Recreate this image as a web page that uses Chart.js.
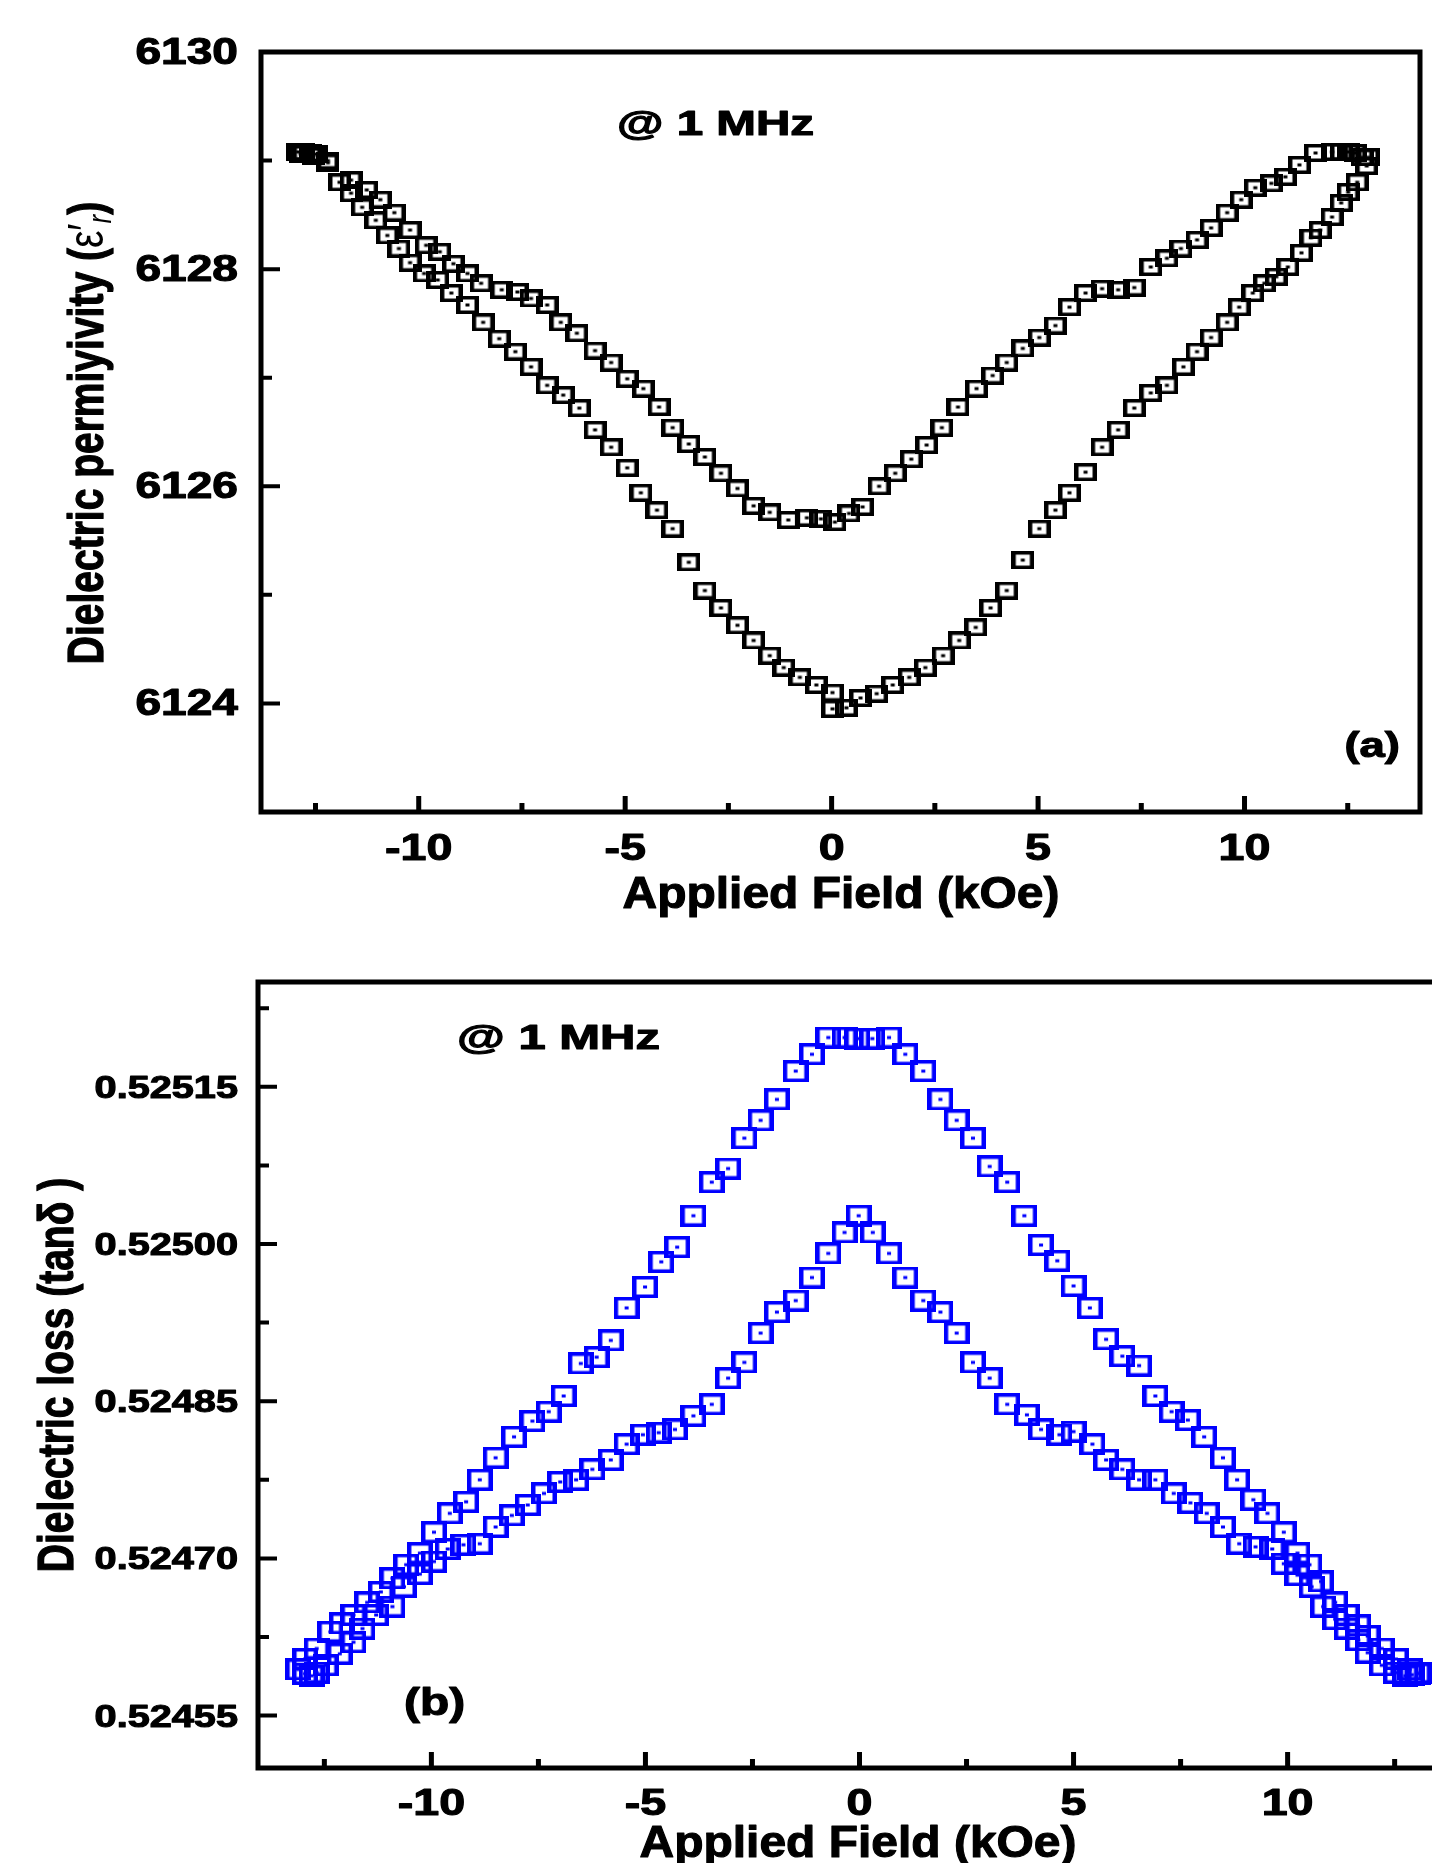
<!DOCTYPE html>
<html>
<head>
<meta charset="utf-8">
<title>Dielectric permittivity and loss vs applied field</title>
<script src="https://cdn.jsdelivr.net/npm/chart.js@4.4.0/dist/chart.umd.min.js"></script>
<style>
  html, body { margin: 0; padding: 0; background: #fff; overflow: hidden; width: 1432px; height: 1863px; }
  canvas { position: absolute; left: 0; }
  #chartA { top: 0; }
  #chartB { top: 930px; }
</style>
</head>
<body>
<canvas id="chartA" width="1432" height="930"></canvas>
<canvas id="chartB" width="1480" height="933"></canvas>
<script>
// --- (a) dielectric permittivity, two branches of the loop ---
const fieldA1 = [-12.93, -12.78, -12.63, -12.48, -12.20, -11.64, -11.26, -10.93, -10.59, -10.21, -9.82, -9.49, -9.16, -8.82, -8.49,
  -7.99, -7.61, -7.28, -6.89, -6.56, -6.17, -5.73, -5.34, -4.95, -4.56, -4.18, -3.85, -3.46, -3.07, -2.68, -2.28, -1.89, -1.50,
  -1.05, -0.60, -0.26, 0.08, 0.42, 0.75, 1.15, 1.54, 1.93, 2.30, 2.67, 3.06, 3.51, 3.90, 4.24, 4.63, 5.03, 5.42, 5.76, 6.15,
  6.55, 6.94, 7.33, 7.73, 8.12, 8.46, 8.85, 9.19, 9.58, 9.92, 10.26, 10.65, 10.99, 11.33, 11.72, 12.12, 12.35, 12.51, 12.68,
  12.85, 13.00];
const epsA1 = [6129.08, 6129.08, 6129.07, 6129.06, 6129.00, 6128.82, 6128.73, 6128.64, 6128.52, 6128.36, 6128.22, 6128.16, 6128.05,
  6127.96, 6127.87, 6127.81, 6127.79, 6127.73, 6127.67, 6127.51, 6127.41, 6127.25, 6127.14, 6126.99, 6126.90, 6126.73, 6126.54,
  6126.39, 6126.27, 6126.12, 6125.98, 6125.82, 6125.76, 6125.69, 6125.71, 6125.70, 6125.67, 6125.75, 6125.81, 6126.00, 6126.12,
  6126.25, 6126.38, 6126.54, 6126.73, 6126.90, 6127.02, 6127.14, 6127.27, 6127.37, 6127.48, 6127.65, 6127.78, 6127.82, 6127.81,
  6127.83, 6128.02, 6128.10, 6128.19, 6128.27, 6128.38, 6128.52, 6128.64, 6128.75, 6128.79, 6128.85, 6128.96, 6129.07, 6129.08,
  6129.08, 6129.08, 6129.07, 6129.03, 6129.03];

const fieldA2 = [-12.86, -12.55, -12.20, -11.92, -11.64, -11.37, -11.04, -10.76, -10.48, -10.21, -9.87, -9.54, -9.21, -8.82, -8.44,
  -8.05, -7.66, -7.28, -6.89, -6.50, -6.11, -5.73, -5.34, -4.95, -4.62, -4.23, -3.85, -3.46, -3.07, -2.68, -2.28, -1.89, -1.50,
  -1.16, -0.77, -0.37, 0.02, 0.02, 0.36, 0.70, 1.09, 1.48, 1.88, 2.27, 2.70, 3.09, 3.49, 3.85, 4.24, 4.63, 5.03, 5.42, 5.76,
  6.15, 6.55, 6.94, 7.33, 7.73, 8.12, 8.52, 8.85, 9.19, 9.58, 9.87, 10.20, 10.48, 10.77, 11.05, 11.38, 11.61, 11.83, 12.12,
  12.34, 12.51, 12.73, 12.96];
const epsA2 = [6129.06, 6129.04, 6128.98, 6128.80, 6128.70, 6128.57, 6128.45, 6128.31, 6128.19, 6128.06, 6127.96, 6127.90, 6127.78,
  6127.67, 6127.51, 6127.36, 6127.24, 6127.10, 6126.93, 6126.84, 6126.72, 6126.52, 6126.36, 6126.17, 6125.94, 6125.78, 6125.61,
  6125.30, 6125.04, 6124.88, 6124.72, 6124.58, 6124.44, 6124.33, 6124.24, 6124.17, 6124.10, 6123.95, 6123.96, 6124.05, 6124.09,
  6124.17, 6124.24, 6124.33, 6124.44, 6124.58, 6124.70, 6124.88, 6125.04, 6125.32, 6125.61, 6125.78, 6125.94, 6126.13, 6126.36,
  6126.52, 6126.72, 6126.86, 6126.93, 6127.10, 6127.24, 6127.37, 6127.51, 6127.65, 6127.78, 6127.87, 6127.93, 6128.02, 6128.15,
  6128.29, 6128.36, 6128.48, 6128.61, 6128.71, 6128.80, 6128.95];

// --- (b) dielectric loss, two branches of the loop ---
const fieldB1 = [-12.95, -12.68, -12.36, -12.09, -11.82, -11.50, -11.18, -10.91, -10.59, -10.27, -9.94, -9.57, -9.19, -8.87, -8.50,
  -8.07, -7.64, -7.26, -6.91, -6.51, -6.14, -5.81, -5.44, -5.01, -4.63, -4.26, -3.88, -3.45, -3.07, -2.69, -2.31, -1.93, -1.49,
  -1.11, -0.73, -0.35, -0.05, 0.30, 0.69, 1.07, 1.49, 1.89, 2.27, 2.65, 3.04, 3.45, 3.85, 4.24, 4.62, 5.00, 5.38, 5.76, 6.14,
  6.53, 6.91, 7.29, 7.67, 8.05, 8.49, 8.82, 9.20, 9.53, 9.91, 10.23, 10.51, 10.78, 11.11, 11.38, 11.65, 11.87, 12.20, 12.53,
  12.85, 13.05];
const lossB1 = [0.524604, 0.524614, 0.524630, 0.524638, 0.524646, 0.524658, 0.524668, 0.524681, 0.524694, 0.524705, 0.524725,
  0.524743, 0.524754, 0.524775, 0.524796, 0.524816, 0.524831, 0.524840, 0.524855, 0.524886, 0.524892, 0.524908, 0.524939,
  0.524959, 0.524983, 0.524997, 0.525027, 0.525059, 0.525072, 0.525101, 0.525118, 0.525138, 0.525165, 0.525181, 0.525197,
  0.525197, 0.525196, 0.525196, 0.525197, 0.525181, 0.525165, 0.525138, 0.525118, 0.525101, 0.525074, 0.525059, 0.525027,
  0.524999, 0.524984, 0.524960, 0.524939, 0.524909, 0.524893, 0.524884, 0.524855, 0.524840, 0.524832, 0.524816, 0.524796,
  0.524775, 0.524756, 0.524743, 0.524725, 0.524705, 0.524694, 0.524678, 0.524658, 0.524646, 0.524636, 0.524626, 0.524614,
  0.524604, 0.524594, 0.524590];

const fieldB2 = [-13.11, -12.95, -12.80, -12.68, -12.47, -12.14, -11.82, -11.61, -11.29, -10.91, -10.64, -10.27, -9.94, -9.62,
  -9.25, -8.87, -8.50, -8.12, -7.75, -7.37, -6.99, -6.62, -6.24, -5.81, -5.44, -5.06, -4.69, -4.31, -3.88, -3.45, -3.07, -2.69,
  -2.31, -1.93, -1.49, -1.11, -0.73, -0.35, -0.02, 0.31, 0.69, 1.07, 1.49, 1.89, 2.27, 2.65, 3.04, 3.45, 3.91, 4.24, 4.67, 5.00,
  5.44, 5.76, 6.14, 6.53, 6.91, 7.34, 7.73, 8.11, 8.49, 8.87, 9.25, 9.64, 9.91, 10.23, 10.56, 10.83, 11.11, 11.38, 11.65, 11.87,
  12.20, 12.53, 12.75, 12.90, 13.10];
const lossB2 = [0.524594, 0.524590, 0.524588, 0.524591, 0.524598, 0.524609, 0.524620, 0.524633, 0.524646, 0.524654, 0.524673,
  0.524685, 0.524697, 0.524709, 0.524713, 0.524714, 0.524730, 0.524741, 0.524751, 0.524762, 0.524773, 0.524775, 0.524785,
  0.524794, 0.524809, 0.524818, 0.524820, 0.524823, 0.524836, 0.524847, 0.524872, 0.524887, 0.524915, 0.524935, 0.524946,
  0.524968, 0.524991, 0.525011, 0.525027, 0.525011, 0.524991, 0.524968, 0.524946, 0.524935, 0.524915, 0.524887, 0.524872,
  0.524847, 0.524837, 0.524823, 0.524818, 0.524821, 0.524809, 0.524794, 0.524785, 0.524775, 0.524775, 0.524762, 0.524753,
  0.524743, 0.524730, 0.524714, 0.524711, 0.524709, 0.524695, 0.524684, 0.524673, 0.524654, 0.524642, 0.524633, 0.524622,
  0.524610, 0.524598, 0.524591, 0.524588, 0.524589, 0.524591];

// --- ticks ---
const fieldTicks = [-10, -5, 0, 5, 10];
const fieldLabels = ['-10', '-5', '0', '5', '10'];
const fieldMinor = [-12.5, -7.5, -2.5, 2.5, 7.5, 12.5];
const epsTicks = [6124, 6126, 6128, 6130];
const epsLabels = ['6124', '6126', '6128', '6130'];
const epsMinor = [6125, 6127, 6129];
const lossTicks = [0.52455, 0.52470, 0.52485, 0.52500, 0.52515];
const lossLabels = ['0.52455', '0.52470', '0.52485', '0.52500', '0.52515'];
const lossMinor = [0.524625, 0.524775, 0.524925, 0.525075, 0.525225];

const FONT = '"Liberation Sans", Arial, Helvetica, sans-serif';

// hollow rectangle with a dot in the middle, used as point style
function makeMarker(w, h, lv, lh, color) {
  const c = document.createElement('canvas');
  c.width = w; c.height = h;
  const g = c.getContext('2d');
  g.fillStyle = color;
  g.fillRect(0, 0, w, lh);
  g.fillRect(0, h - lh, w, lh);
  g.fillRect(0, 0, lv, h);
  g.fillRect(w - lv, 0, lv, h);
  g.fillRect(w / 2 - 2, h / 2 - 1.5, 4, 3);
  return c;
}

// text drawn a bit wider (and heavier) than the font, like the original figure
function putText(ctx, text, x, y, size, sx, align, weight) {
  ctx.save();
  ctx.font = (weight || 'bold') + ' ' + size + 'px ' + FONT;
  ctx.fillStyle = '#000';
  ctx.strokeStyle = '#000';
  ctx.lineWidth = 1.1;
  ctx.lineJoin = 'round';
  ctx.textBaseline = 'alphabetic';
  const w = ctx.measureText(text).width;
  ctx.translate(x, y);
  ctx.scale(sx, 1);
  let dx = 0;
  if (align === 'center') dx = -w / 2;
  else if (align === 'right') dx = -w;
  ctx.fillText(text, dx, 0);
  ctx.strokeText(text, dx, 0);
  ctx.restore();
}

function putVertical(ctx, runs, x, cy, sx) {
  ctx.save();
  ctx.fillStyle = '#000';
  ctx.strokeStyle = '#000';
  ctx.lineJoin = 'round';
  ctx.textBaseline = 'alphabetic';
  ctx.translate(x, cy);
  ctx.scale(sx, 1);
  ctx.rotate(-Math.PI / 2);
  let total = 0;
  runs.forEach(r => { ctx.font = r.font; r.w = ctx.measureText(r.t).width; total += r.w; });
  let pos = -total / 2;
  runs.forEach(r => {
    ctx.font = r.font;
    ctx.fillText(r.t, pos, r.dy || 0);
    if (r.heavy) { ctx.lineWidth = 1; ctx.strokeText(r.t, pos, r.dy || 0); }
    pos += r.w;
  });
  ctx.restore();
}

function framePlugin(deco) {
  return {
    id: 'frame',
    afterDraw(chart) {
      const { ctx, chartArea: a } = chart;
      const xs = chart.scales.x, ys = chart.scales.y;
      ctx.save();
      ctx.strokeStyle = '#000';
      ctx.lineWidth = 5;
      ctx.strokeRect(a.left, a.top, a.right - a.left, a.bottom - a.top);

      // inward ticks on bottom and left
      ctx.lineWidth = 5;
      ctx.beginPath();
      fieldTicks.forEach(v => { const p = xs.getPixelForValue(v); ctx.moveTo(p, a.bottom); ctx.lineTo(p, a.bottom - 16); });
      fieldMinor.forEach(v => { const p = xs.getPixelForValue(v); ctx.moveTo(p, a.bottom); ctx.lineTo(p, a.bottom - 9); });
      ctx.stroke();
      ctx.lineWidth = 4;
      ctx.beginPath();
      deco.yTicks.forEach(v => { const p = ys.getPixelForValue(v); ctx.moveTo(a.left, p); ctx.lineTo(a.left + 19, p); });
      deco.yMinor.forEach(v => { const p = ys.getPixelForValue(v); ctx.moveTo(a.left, p); ctx.lineTo(a.left + 11, p); });
      ctx.stroke();
      ctx.restore();

      // tick labels
      fieldTicks.forEach((v, i) => {
        putText(ctx, fieldLabels[i], xs.getPixelForValue(v), a.bottom + deco.xLabelDy, 37, 1.26, 'center');
      });
      deco.yTicks.forEach((v, i) => {
        putText(ctx, deco.yLabels[i], 238, ys.getPixelForValue(v) + deco.yLabelDy, deco.yLabelSize, 1.28, 'right');
      });

      // axis titles
      putText(ctx, 'Applied Field (kOe)', deco.xTitle[0], deco.xTitle[1], 44, 1.09, 'center');
      putVertical(ctx, deco.yTitle, deco.yTitleX, deco.yTitleY, 1.3);

      // annotations
      deco.notes.forEach(n => putText(ctx, n.t, n.x, n.y, n.size, n.sx, n.align));
    }
  };
}

function buildPanel(id, opt) {
  return new Chart(document.getElementById(id), {
    type: 'scatter',
    data: {
      datasets: opt.series.map(s => ({
        data: s.x.map((v, i) => ({ x: v, y: s.y[i] })),
        pointStyle: opt.marker,
        pointRadius: 12,
        pointHoverRadius: 12,
        borderWidth: 0,
        showLine: false
      }))
    },
    options: {
      responsive: false,
      animation: false,
      devicePixelRatio: 1,
      events: [],
      layout: { padding: opt.padding },
      plugins: { legend: { display: false }, tooltip: { enabled: false } },
      scales: {
        x: { type: 'linear', display: false, min: opt.xMin, max: opt.xMax },
        y: { type: 'linear', display: false, min: opt.yMin, max: opt.yMax }
      }
    },
    plugins: [framePlugin(opt.deco)]
  });
}

const bold39 = 'bold 39px ' + FONT;

buildPanel('chartA', {
  series: [{ x: fieldA1, y: epsA1 }, { x: fieldA2, y: epsA2 }],
  marker: makeMarker(23, 18, 4.5, 3.5, '#000000'),
  padding: { left: 261, top: 52, right: 6, bottom: 118 },
  xMin: -13.82, xMax: 14.25, yMin: 6123, yMax: 6130,
  deco: {
    yTicks: epsTicks, yMinor: epsMinor, yLabels: epsLabels, yLabelSize: 36, yLabelDy: 12,
    xLabelDy: 48,
    xTitle: [841, 908],
    yTitleX: 103, yTitleY: 433,
    yTitle: [
      { t: 'Dielectric permiyivity (', font: bold39, heavy: true },
      { t: 'ε', font: '39px ' + FONT },
      { t: '′', font: '39px ' + FONT },
      { t: 'r', font: 'italic 26px ' + FONT, dy: 6 },
      { t: ')', font: bold39, heavy: true }
    ],
    notes: [
      { t: '@ 1 MHz', x: 617, y: 135, size: 35, sx: 1.36, align: 'left' },
      { t: '(a)', x: 1400, y: 757, size: 35, sx: 1.3, align: 'right' }
    ]
  }
});

buildPanel('chartB', {
  series: [{ x: fieldB1, y: lossB1 }, { x: fieldB2, y: lossB2 }],
  marker: makeMarker(26, 22, 4.5, 3.5, '#0000ff'),
  padding: { left: 258, top: 52, right: 13, bottom: 95 },
  xMin: -14.05, xMax: 14.19, yMin: 0.5245, yMax: 0.52525,
  deco: {
    yTicks: lossTicks, yMinor: lossMinor, yLabels: lossLabels, yLabelSize: 31, yLabelDy: 11,
    xLabelDy: 47,
    xTitle: [858, 927],
    yTitleX: 73, yTitleY: 445,
    yTitle: [{ t: 'Dielectric loss (tanδ )', font: bold39, heavy: true }],
    notes: [
      { t: '@ 1 MHz', x: 457, y: 119, size: 35, sx: 1.4, align: 'left' },
      { t: '(b)', x: 404, y: 785, size: 38, sx: 1.26, align: 'left' }
    ]
  }
});
</script>
</body>
</html>
